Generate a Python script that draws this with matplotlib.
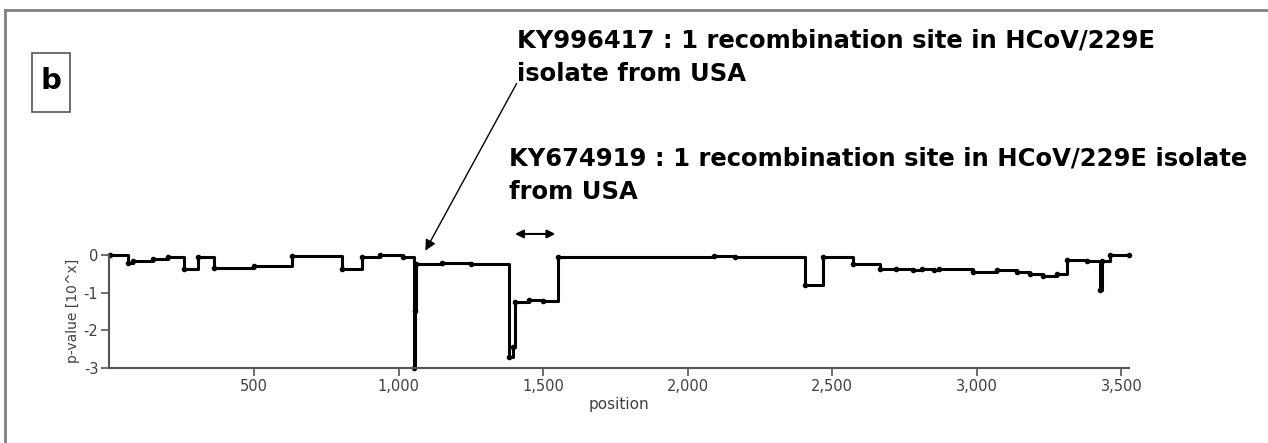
import matplotlib.pyplot as plt
from matplotlib.patches import Rectangle
from matplotlib.lines import Line2D

# positions ou la p-value change (debut de chaque palier) et valeurs log10
positions = [2, 65, 83, 152, 204, 258, 308, 360, 500, 630, 803, 872, 935, 1016,
             1054, 1058, 1062, 1150, 1250, 1383, 1395, 1402, 1450, 1500, 1552,
             2090, 2165, 2405, 2469, 2573, 2665, 2720, 2780, 2810, 2850, 2870,
             2988, 3069, 3138, 3184, 3230, 3276, 3311, 3380, 3426, 3432, 3461, 3527]
pvalues = [0, -0.2, -0.15, -0.1, -0.04, -0.38, -0.04, -0.34, -0.3, -0.02, -0.37,
           -0.06, 0, -0.06, -3, -1.5, -0.24, -0.22, -0.24, -2.72, -2.45, -1.24,
           -1.2, -1.22, -0.06, -0.02, -0.06, -0.8, -0.04, -0.25, -0.38, -0.36,
           -0.41, -0.38, -0.41, -0.38, -0.44, -0.4, -0.44, -0.5, -0.56, -0.5,
           -0.12, -0.17, -0.93, -0.15, 0, 0]

xticks = [500, 1000, 1500, 2000, 2500, 3000, 3500]
xticklabels = ["500", "1,000", "1,500", "2,000", "2,500", "3,000", "3,500"]
yticks = [0, -1, -2, -3]
yticklabels = ["0", "-1", "-2", "-3"]

W, H = 1268, 443
fig = plt.figure(figsize=(W / 100, H / 100), dpi=100)

# cadre gris autour de la figure (haut et gauche)
fig.add_artist(Line2D([5 / W, 5 / W], [0, 1 - 10 / H], color="#808080", lw=2))
fig.add_artist(Line2D([5 / W, 1], [1 - 10 / H, 1 - 10 / H], color="#808080", lw=2))

# petite case "b"
fig.add_artist(Rectangle((32 / W, 1 - 112 / H), 38 / W, 59 / H, fill=False,
                         edgecolor="#555555", lw=1.2))
fig.text(51 / W, 1 - 81 / H, "b", fontsize=21, fontweight="bold",
         ha="center", va="center", family="DejaVu Sans")

ax = fig.add_axes([109.4 / W, 1 - 367.7 / H, 1019.9 / W, 112.7 / H])
ax.plot(positions, pvalues, drawstyle="steps-post", color="black", lw=2.2,
        marker="o", ms=3, clip_on=False)

ax.set_xlim(0, 3527)
ax.set_ylim(-3, 0)
ax.set_xticks(xticks)
ax.set_xticklabels(xticklabels)
ax.set_yticks(yticks)
ax.set_yticklabels(yticklabels)
ax.spines["top"].set_visible(False)
ax.spines["right"].set_visible(False)
for s in ["left", "bottom"]:
    ax.spines[s].set_color("#555555")
    ax.spines[s].set_linewidth(1.5)
ax.tick_params(direction="out", length=6, width=1.2, color="#555555",
               labelsize=10.5, labelcolor="#404040", pad=2)
ax.set_xlabel("position", fontsize=11, color="#404040", labelpad=2)
ax.set_ylabel("p-value [10^x]", fontsize=10, color="#404040")
ax.yaxis.set_label_coords(-0.029, 0.5)

# annotations
ax.annotate("", xy=(1088, 0.05), xycoords="data",
            xytext=(518 / W, 1 - 81 / H), textcoords="figure fraction",
            arrowprops=dict(arrowstyle="-|>", color="black", lw=1,
                            mutation_scale=16), annotation_clip=False)
ax.annotate("", xy=(1393, 0.56), xytext=(1552, 0.56),
            arrowprops=dict(arrowstyle="<|-|>", color="black", lw=1.5,
                            mutation_scale=12), annotation_clip=False)

fig.text(517 / W, 1 - 57 / H,
         "KY996417 : 1 recombination site in HCoV/229E\nisolate from USA",
         fontsize=17.5, fontweight="bold", family="DejaVu Sans",
         ha="left", va="center", linespacing=1.48)
fig.text(509 / W, 1 - 175 / H,
         "KY674919 : 1 recombination site in HCoV/229E isolate\nfrom USA",
         fontsize=17.5, fontweight="bold", family="DejaVu Sans",
         ha="left", va="center", linespacing=1.48)

fig.savefig("out.png", dpi=100)
